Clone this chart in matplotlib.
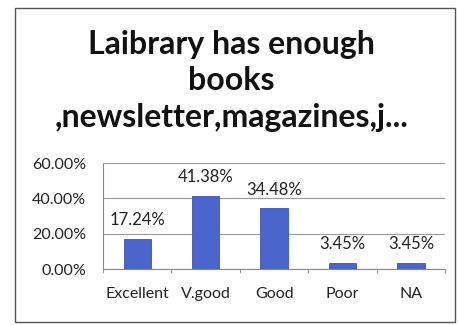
import matplotlib
matplotlib.use("Agg")
from matplotlib import pyplot as plt
from matplotlib.patches import Rectangle
from matplotlib.ticker import FuncFormatter

categories = ["Excellent", "V.good", "Good", "Poor", "NA"]
shares = [17.24, 41.38, 34.48, 3.45, 3.45]
yticks = [0, 20, 40, 60]

plt.rcParams['font.family'] = ['Lato', 'DejaVu Sans']

fig = plt.figure(figsize=(4.58, 3.25), dpi=100)
fig.patch.set_facecolor("white")

# outer chart frame
fig.patches.append(Rectangle((0.033, 0.01), 0.96, 0.965, transform=fig.transFigure,
                             fill=False, edgecolor="#555555", linewidth=1.0))

title_lines = ["Laibrary has enough", "books", ",newsletter,magazines,j..."]
for y, line in zip([0.862, 0.752, 0.637], title_lines):
    fig.text(0.505, y, line, ha="center", va="center",
             fontsize=23, fontweight="bold", color="#111111")

ax = fig.add_axes([0.225, 0.172, 0.747, 0.326])
x = range(len(categories))
bars = ax.bar(x, shares, width=0.4, color="#4a66cc", edgecolor="#3a55b8", linewidth=0.6, zorder=3)

for xi, v in zip(x, shares):
    ax.text(xi, v + 6, f"{v:.2f}%", ha="center", va="bottom", fontsize=12, color="#222222")

ax.set_xlim(-0.5, len(categories) - 0.5)
ax.set_ylim(0, 60)
ax.set_yticks(yticks)
ax.yaxis.set_major_formatter(FuncFormatter(lambda v, p: f"{v:.2f}%"))
ax.set_xticks(list(x))
ax.set_xticklabels(categories)
ax.tick_params(axis="x", length=0, pad=13, labelsize=11.5, colors="#222222")
ax.tick_params(axis="y", length=0, pad=12, labelsize=11.5, colors="#222222")
ax.set_xticks([i + 0.5 for i in range(-1, len(categories))], minor=True)
ax.tick_params(axis="x", which="minor", length=3, color="#888888")

ax.grid(axis="y", color="#999999", linewidth=0.8, zorder=0)
for side in ["top", "right"]:
    ax.spines[side].set_visible(False)
ax.spines["left"].set_color("#888888")
ax.spines["bottom"].set_color("#888888")

fig.savefig("out.png", dpi=100, facecolor="white")
